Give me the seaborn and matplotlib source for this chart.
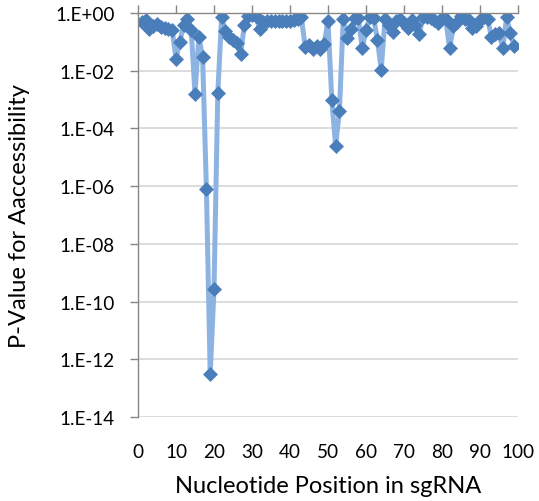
import numpy as np
import pandas as pd
import matplotlib
matplotlib.use("Agg")
import matplotlib.pyplot as plt
import seaborn as sns
from matplotlib.ticker import FixedLocator, FuncFormatter

positions = list(range(1, 100))
p_values = [
    0.48, 0.57, 0.27, 0.35, 0.40, 0.32, 0.30, 0.28, 0.25, 0.026,
    0.096, 0.39, 0.60, 0.26, 0.0016, 0.145, 0.030, 8e-7, 3e-13, 2.7e-10,
    0.0017, 0.71, 0.24, 0.15, 0.12, 0.09, 0.038, 0.39, 0.80, 0.85,
    0.80, 0.27, 0.50, 0.52, 0.52, 0.52, 0.52, 0.52, 0.52, 0.52,
    0.58, 0.62, 0.70, 0.065, 0.075, 0.057, 0.070, 0.055, 0.085, 0.54,
    1e-3, 2.5e-5, 4e-4, 0.60, 0.14, 0.27, 0.65, 0.65, 0.06, 0.25,
    0.75, 0.68, 0.12, 0.011, 0.60, 0.38, 0.22, 0.54, 0.60, 0.45,
    0.30, 0.57, 0.38, 0.18, 0.75, 0.70, 0.65, 0.55, 0.45, 0.68,
    0.60, 0.06, 0.35, 0.50, 0.78, 0.62, 0.55, 0.30, 0.35, 0.55,
    0.75, 0.62, 0.15, 0.18, 0.20, 0.06, 0.70, 0.20, 0.07,
]
x_ticks = [0, 10, 20, 30, 40, 50, 60, 70, 80, 90, 100]
y_ticks = [1e0, 1e-2, 1e-4, 1e-6, 1e-8, 1e-10, 1e-12, 1e-14]
y_tick_labels = ["1.E+00", "1.E-02", "1.E-04", "1.E-06", "1.E-08", "1.E-10", "1.E-12", "1.E-14"]
x_label = "Nucleotide Position in sgRNA"
y_label = "P-Value for Aaccessibility"

df = pd.DataFrame({"pos": positions, "p": p_values})

sns.set_theme(style="white")
plt.rcParams["font.family"] = ["Lato", "DejaVu Sans"]

W, H = 539, 502
fig = plt.figure(figsize=(W / 100, H / 100), dpi=100)
ax = fig.add_axes([138 / W, (H - 418) / H, (518 - 138) / W, (418 - 14) / H])

sns.lineplot(data=df, x="pos", y="p", ax=ax, color="#8DB3E2", linewidth=3.6,
             marker="D", markersize=7, markerfacecolor="#4A7EBB",
             markeredgecolor="#4A7EBB", markeredgewidth=0.5)

ax.set_yscale("log")
ax.set_ylim(1e-14, 1e0)
ax.set_xlim(0, 100)

def fmt(v, i):
    k = int(np.argmin([abs(np.log10(t) - np.log10(v)) for t in y_ticks]))
    return y_tick_labels[k]

ax.yaxis.set_major_locator(FixedLocator(y_ticks))
ax.yaxis.set_major_formatter(FuncFormatter(fmt))
ax.yaxis.set_minor_locator(FixedLocator([]))
ax.set_xticks(x_ticks)
ax.set_xticklabels([str(t) for t in x_ticks])

ax.grid(axis="y", color="#D9D9D9", linewidth=1.3)
ax.grid(axis="x", visible=False)
ax.set_axisbelow(True)

for s in ["right", "bottom"]:
    ax.spines[s].set_visible(False)
for s in ["left", "top"]:
    ax.spines[s].set_color("#868686")
    ax.spines[s].set_linewidth(1.0)

ax.tick_params(axis="y", which="major", left=True, direction="out", length=6,
               width=1.0, color="#868686", labelsize=13.6, labelcolor="#000000", pad=11)
ax.tick_params(axis="x", which="major", top=True, bottom=False, labeltop=False,
               labelbottom=True, direction="out", length=6, width=1.0,
               color="#868686", labelsize=13.6, labelcolor="#000000", pad=12.5)

ax.set_xlabel(x_label, fontsize=17, color="#000000", labelpad=11)
ax.set_ylabel(y_label, fontsize=17, color="#000000", labelpad=18)

fig.savefig("out.png", dpi=100)
